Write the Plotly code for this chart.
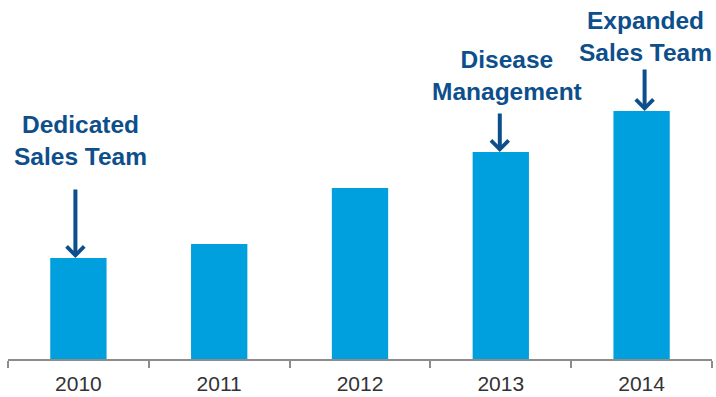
import plotly.graph_objects as go

years = ["2010", "2011", "2012", "2013", "2014"]
values = [101, 115, 171, 207, 248]

notes = ["Dedicated<br>Sales Team", "Disease<br>Management", "Expanded<br>Sales Team"]
note_years = ["2010", "2013", "2014"]
note_text_y = [219, 284, 323]
note_text_shift = [2, 6, 4]
note_arrow_len = [70, 40, 43]
note_arrow_shift = [-3, -1, 3]

BAR = "#00A0DF"
NAVY = "#0D4F8B"
FONT = "Liberation Sans, Arial, sans-serif"

fig = go.Figure(go.Bar(x=years, y=values, marker=dict(color=BAR, line=dict(width=0)),
                       width=0.4, hoverinfo="skip"))

val_of = dict(zip(years, values))
for txt, yr, ty, ts, al, ash in zip(notes, note_years, note_text_y, note_text_shift,
                                     note_arrow_len, note_arrow_shift):
    xi = years.index(yr)  # category index on the category axis
    fig.add_annotation(x=xi, y=ty, xref="x", yref="y", text="<b>" + txt + "</b>",
                       showarrow=False, xshift=ts, yanchor="middle",
                       font=dict(family=FONT, size=24.5, color=NAVY))
    fig.add_annotation(x=xi, y=val_of[yr], xref="x", yref="y", text="",
                       showarrow=True, ax=0, ay=-al, xshift=ash,
                       arrowhead=4, arrowwidth=4, arrowsize=0.85, arrowcolor=NAVY,
                       standoff=0)

fig.update_layout(
    width=716, height=397,
    margin=dict(l=8, r=4, t=10, b=38, autoexpand=False),
    paper_bgcolor="white", plot_bgcolor="white",
    showlegend=False,
    font=dict(family=FONT),
)
fig.update_xaxes(type="category", range=[-0.5, 4.5], showline=True, linecolor="#8c8c8c", linewidth=2,
                 ticks="outside", tickson="boundaries", ticklen=7, tickwidth=1.5,
                 tickcolor="#8c8c8c", tickfont=dict(family=FONT, size=21, color="#333333"),
                 ticklabelstandoff=5,
                 showgrid=False, zeroline=False)
fig.update_yaxes(visible=False, range=[0, 349], showgrid=False, zeroline=False)

fig.write_html("out.html", config={"displayModeBar": False},
               post_script="document.body.style.margin='0';")
